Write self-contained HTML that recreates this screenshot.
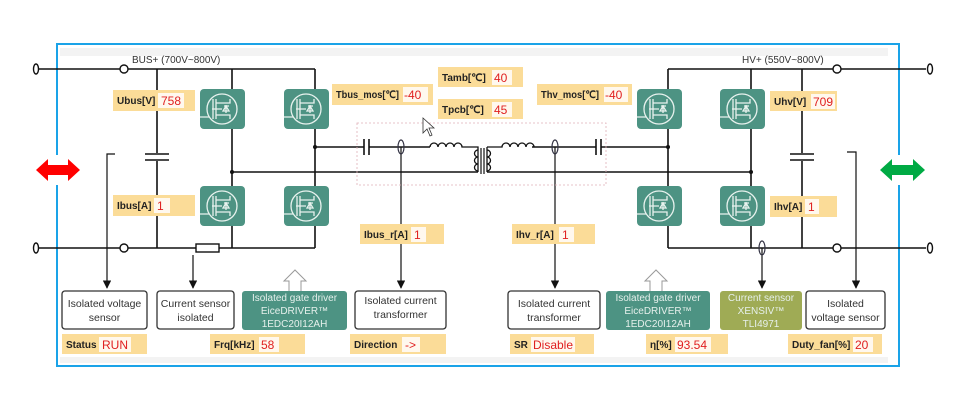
<!DOCTYPE html>
<html><head><meta charset="utf-8"><style>
html,body{margin:0;padding:0;background:#fff;width:956px;height:406px;overflow:hidden}
svg{display:block}
text{font-family:"Liberation Sans",sans-serif}
.b{font-weight:bold;font-size:10px;fill:#222}
.v{font-size:12px;fill:#e02020}
.bx{font-size:10.5px;fill:#333;text-anchor:middle}
.wt{font-size:10px;fill:#e6f0ec;text-anchor:middle}
</style></head><body>
<svg width="956" height="406" viewBox="0 0 956 406">
<defs>
<g id="m">
<rect x="0" y="0" width="45" height="40" rx="4" fill="#4d9383"/>
<circle cx="22" cy="20" r="15" fill="none" stroke="#e8f2ee" stroke-width="1.3"/>
<path d="M0 28 H9 M13 10 V30 M16 10 V30 M16 14 H30 V10 M16 26 H30 V30 M12 20 H22 M26 16 V24 M23 22 H29 L26 17 Z M24 17 H29" stroke="#e8f2ee" stroke-width="1.3" fill="none"/>
</g>
<marker id="ar" viewBox="0 0 10 10" refX="9" refY="5" markerWidth="7" markerHeight="7" orient="auto"><path d="M0 0 L10 5 L0 10 Z" fill="#111"/></marker>
</defs>
<!-- frame -->
<rect x="57" y="44" width="842" height="322" fill="#fff" stroke="#1aa3e8" stroke-width="2"/>
<rect x="60" y="48" width="828" height="8" fill="#f3f3f3"/>
<rect x="60" y="357" width="828" height="6" fill="#f3f3f3"/>

<g stroke="#111" stroke-width="1.6" fill="none">
<line x1="38" y1="69" x2="120" y2="69"/><line x1="127" y1="69" x2="315" y2="69"/>
<line x1="157" y1="69" x2="157" y2="153"/><line x1="157" y1="161" x2="157" y2="248"/>
<line x1="232" y1="69" x2="232" y2="248"/><line x1="315" y1="69" x2="315" y2="248"/>
<line x1="38" y1="248" x2="120" y2="248"/><line x1="128" y1="248" x2="196" y2="248"/><line x1="219" y1="248" x2="315" y2="248"/>
<line x1="315" y1="147" x2="364" y2="147"/><line x1="369" y1="147" x2="430" y2="147"/>
<line x1="232" y1="172" x2="478" y2="172"/><line x1="487" y1="172" x2="751" y2="172"/>
<line x1="532" y1="147" x2="596" y2="147"/><line x1="601" y1="147" x2="668" y2="147"/>
<line x1="668" y1="69" x2="833" y2="69"/><line x1="841" y1="69" x2="926" y2="69"/>
<line x1="668" y1="69" x2="668" y2="248"/><line x1="751" y1="69" x2="751" y2="248"/>
<line x1="802" y1="69" x2="802" y2="153"/><line x1="802" y1="161" x2="802" y2="248"/>
<line x1="668" y1="248" x2="833" y2="248"/><line x1="841" y1="248" x2="926" y2="248"/>
<line x1="145" y1="154" x2="169" y2="154"/><line x1="145" y1="160" x2="169" y2="160"/>
<line x1="790" y1="154" x2="814" y2="154"/><line x1="790" y1="160" x2="814" y2="160"/>
<line x1="364" y1="139" x2="364" y2="155"/><line x1="369" y1="139" x2="369" y2="155"/>
<line x1="596" y1="139" x2="596" y2="155"/><line x1="601" y1="139" x2="601" y2="155"/>
<path d="M430 147 a4 4 0 0 1 8 0 a4 4 0 0 1 8 0 a4 4 0 0 1 8 0 a4 4 0 0 1 8 0 H478 V172" stroke-width="1.3"/>
<path d="M487 147 V172 M487 147 H502 a4 4 0 0 1 8 0 a4 4 0 0 1 8 0 a4 4 0 0 1 8 0 a4 4 0 0 1 8 0" stroke-width="1.3"/>
<path d="M478 150 a3.5 3.5 0 0 0 0 7 a3.5 3.5 0 0 0 0 7 a3.5 3.5 0 0 0 0 7" stroke-width="1.3"/>
<path d="M487 150 a3.5 3.5 0 0 1 0 7 a3.5 3.5 0 0 1 0 7 a3.5 3.5 0 0 1 0 7" stroke-width="1.3"/>
<line x1="481" y1="148" x2="481" y2="174" stroke-width="1.2"/><line x1="484" y1="148" x2="484" y2="174" stroke-width="1.2"/>
<line x1="401" y1="147" x2="401" y2="288" stroke-width="1.2" marker-end="url(#ar)"/>
<line x1="555" y1="147" x2="555" y2="288" stroke-width="1.2" marker-end="url(#ar)"/>
<line x1="193" y1="255" x2="193" y2="288" stroke-width="1.2" marker-end="url(#ar)"/>
<line x1="762" y1="248" x2="762" y2="288" stroke-width="1.2" marker-end="url(#ar)"/>
<path d="M115 154 H107 V288" stroke-width="1.2" marker-end="url(#ar)"/>
<path d="M847 152 H856 V288" stroke-width="1.2" marker-end="url(#ar)"/>
</g>
<g fill="#fff" stroke="#111" stroke-width="1.4">
<circle cx="124" cy="69" r="4"/><circle cx="837" cy="69" r="4"/>
<circle cx="124" cy="248" r="4"/><circle cx="837" cy="248" r="4"/>
<ellipse cx="36" cy="69" rx="2.5" ry="5"/><ellipse cx="36" cy="248" rx="2.5" ry="5"/>
<ellipse cx="930" cy="69" rx="2.5" ry="5"/><ellipse cx="930" cy="248" rx="2.5" ry="5"/>
<rect x="196" y="244" width="23" height="8"/>
</g>
<g fill="none" stroke="#334" stroke-width="1.2">
<ellipse cx="401" cy="147" rx="3" ry="7"/><ellipse cx="555" cy="147" rx="3" ry="7"/><ellipse cx="762" cy="248" rx="3" ry="7"/>
</g>
<g fill="#111"><circle cx="315" cy="147" r="2"/><circle cx="232" cy="172" r="2"/><circle cx="668" cy="147" r="2"/><circle cx="751" cy="172" r="2"/></g>
<rect x="357" y="123" width="249" height="62" fill="none" stroke="#e0b0b8" stroke-width="0.8" stroke-dasharray="2,2"/>

<use href="#m" x="200" y="89"/><use href="#m" x="284" y="89"/>
<use href="#m" x="200" y="186"/><use href="#m" x="284" y="186"/>
<use href="#m" x="637" y="89"/><use href="#m" x="720" y="89"/>
<use href="#m" x="637" y="186"/><use href="#m" x="720" y="186"/>

<text x="132" y="63" font-size="10" fill="#333">BUS+ (700V~800V)</text>
<text x="742" y="63" font-size="10" fill="#333">HV+ (550V~800V)</text>

<g>
<rect x="113" y="90" width="82" height="21" fill="#fbdc98"/><text class="b" x="117" y="104">Ubus[V]</text><rect x="158" y="93" width="26" height="15" fill="#fff8ee"/><text class="v" x="161" y="105">758</text>
<rect x="113" y="195" width="82" height="21" fill="#fbdc98"/><text class="b" x="117" y="209">Ibus[A]</text><rect x="154" y="198" width="16" height="15" fill="#fff8ee"/><text class="v" x="157" y="210">1</text>
<rect x="332" y="84" width="101" height="21" fill="#fbdc98"/><text class="b" x="336" y="98" textLength="63" lengthAdjust="spacingAndGlyphs">Tbus_mos[℃]</text><rect x="403" y="87" width="25" height="15" fill="#fff8ee"/><text class="v" x="404" y="99">-40</text>
<rect x="438" y="67" width="85" height="20" fill="#fbdc98"/><text class="b" x="442" y="81">Tamb[℃]</text><rect x="492" y="70" width="20" height="15" fill="#fff8ee"/><text class="v" x="494" y="82">40</text>
<rect x="438" y="99" width="85" height="20" fill="#fbdc98"/><text class="b" x="442" y="113">Tpcb[℃]</text><rect x="492" y="102" width="20" height="15" fill="#fff8ee"/><text class="v" x="494" y="114">45</text>
<rect x="537" y="84" width="95" height="21" fill="#fbdc98"/><text class="b" x="541" y="98" textLength="58" lengthAdjust="spacingAndGlyphs">Thv_mos[℃]</text><rect x="604" y="87" width="24" height="15" fill="#fff8ee"/><text class="v" x="605" y="99">-40</text>
<rect x="770" y="91" width="67" height="20" fill="#fbdc98"/><text class="b" x="774" y="105">Uhv[V]</text><rect x="811" y="94" width="24" height="15" fill="#fff8ee"/><text class="v" x="813" y="106">709</text>
<rect x="770" y="196" width="67" height="21" fill="#fbdc98"/><text class="b" x="774" y="210">Ihv[A]</text><rect x="805" y="199" width="14" height="15" fill="#fff8ee"/><text class="v" x="808" y="211">1</text>
<rect x="360" y="224" width="84" height="20" fill="#fbdc98"/><text class="b" x="364" y="238">Ibus_r[A]</text><rect x="411" y="227" width="15" height="15" fill="#fff8ee"/><text class="v" x="414" y="239">1</text>
<rect x="512" y="224" width="83" height="20" fill="#fbdc98"/><text class="b" x="516" y="238">Ihv_r[A]</text><rect x="559" y="227" width="15" height="15" fill="#fff8ee"/><text class="v" x="562" y="239">1</text>
<rect x="62" y="334" width="85" height="20" fill="#fbdc98"/><text class="b" x="66" y="348">Status</text><rect x="99" y="337" width="32" height="15" fill="#fff8ee"/><text class="v" x="102" y="349">RUN</text>
<rect x="210" y="334" width="95" height="20" fill="#fbdc98"/><text class="b" x="214" y="348">Frq[kHz]</text><rect x="259" y="337" width="20" height="15" fill="#fff8ee"/><text class="v" x="261" y="349">58</text>
<rect x="350" y="334" width="96" height="20" fill="#fbdc98"/><text class="b" x="354" y="348">Direction</text><rect x="402" y="337" width="18" height="15" fill="#fff8ee"/><text class="v" x="405" y="349" font-size="10">-&gt;</text>
<rect x="510" y="334" width="84" height="20" fill="#fbdc98"/><text class="b" x="514" y="348">SR</text><rect x="531" y="337" width="44" height="15" fill="#fff8ee"/><text class="v" x="533" y="349">Disable</text>
<rect x="646" y="334" width="82" height="20" fill="#fbdc98"/><text class="b" x="650" y="348">η[%]</text><rect x="675" y="337" width="36" height="15" fill="#fff8ee"/><text class="v" x="677" y="349">93.54</text>
<rect x="788" y="334" width="94" height="20" fill="#fbdc98"/><text class="b" x="792" y="348">Duty_fan[%]</text><rect x="853" y="337" width="20" height="15" fill="#fff8ee"/><text class="v" x="855" y="349">20</text>
</g>

<g stroke="#333" stroke-width="1.3" fill="#fff">
<rect x="62" y="291" width="85" height="38" rx="3"/>
<rect x="157" y="291" width="77" height="38" rx="3"/>
<rect x="355" y="291" width="91" height="38" rx="3"/>
<rect x="508" y="291" width="92" height="38" rx="3"/>
<rect x="806" y="291" width="79" height="38" rx="3"/>
</g>
<rect x="242" y="291" width="105" height="39" rx="3" fill="#4d9383"/>
<rect x="606" y="291" width="104" height="39" rx="3" fill="#4d9383"/>
<rect x="720" y="291" width="82" height="39" rx="3" fill="#9fab55"/>
<text class="bx"><tspan x="104.5" y="307">Isolated voltage</tspan><tspan x="104.5" y="321">sensor</tspan></text>
<text class="bx"><tspan x="195.5" y="307">Current sensor</tspan><tspan x="195.5" y="321">isolated</tspan></text>
<text class="bx"><tspan x="400.5" y="304">Isolated current</tspan><tspan x="400.5" y="318">transformer</tspan></text>
<text class="bx"><tspan x="554" y="307">Isolated current</tspan><tspan x="554" y="321">transformer</tspan></text>
<text class="bx"><tspan x="845.5" y="307">Isolated</tspan><tspan x="845.5" y="321">voltage sensor</tspan></text>
<text class="wt"><tspan x="294.5" y="301">Isolated gate driver</tspan><tspan x="294.5" y="314">EiceDRIVER™</tspan><tspan x="294.5" y="327">1EDC20I12AH</tspan></text>
<text class="wt"><tspan x="658" y="301">Isolated gate driver</tspan><tspan x="658" y="314">EiceDRIVER™</tspan><tspan x="658" y="327">1EDC20I12AH</tspan></text>
<text class="wt" fill="#eef0d0"><tspan x="761" y="301">Current sensor</tspan><tspan x="761" y="314">XENSIV™</tspan><tspan x="761" y="327">TLI4971</tspan></text>
<path d="M289 291 V281 H284 L295 270 L306 281 H301 V291" fill="#fff" stroke="#999" stroke-width="1"/>
<path d="M650 291 V281 H645 L656 270 L667 281 H662 V291" fill="#fff" stroke="#999" stroke-width="1"/>
<rect x="54" y="155" width="8" height="30" fill="#fff"/>
<rect x="895" y="155" width="8" height="30" fill="#fff"/>
<path d="M36 170 L48 159 V165 H68 V159 L80 170 L68 181 V175 H48 V181 Z" fill="#f00"/>
<path d="M880 170 L892 159 V165 H913 V159 L925 170 L913 181 V175 H892 V181 Z" fill="#0a4"/>
<path d="M423 118 V133 L427 129 L430 136 L432 135 L429 128 L434 128 Z" fill="#fff" stroke="#333" stroke-width="0.8"/>
</svg>
</body></html>
